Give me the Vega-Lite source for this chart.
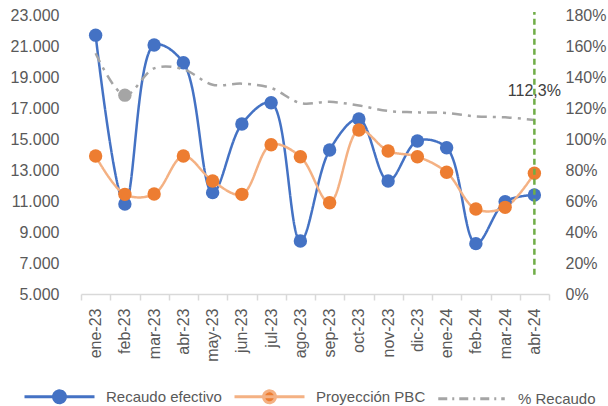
{
  "$schema": "https://vega.github.io/schema/vega-lite/v6.json",
  "width": 468,
  "height": 279,
  "autosize": {"type": "none"},
  "padding": {"left": 81, "top": 15, "right": 59, "bottom": 112},
  "background": "white",
  "config": {
    "font": "Liberation Sans",
    "view": {"stroke": null},
    "locale": {"number": {"decimal": ",", "thousands": ".", "grouping": [3], "currency": ["$", ""]}},
    "axis": {"labelFont": "Liberation Sans", "labelFontSize": 16, "labelColor": "#595959", "title": null, "grid": false}
  },
  "datasets": {
    "montos": [
      {"mes": "ene-23", "serie": "Recaudo efectivo", "valor": 21700},
      {"mes": "feb-23", "serie": "Recaudo efectivo", "valor": 10800},
      {"mes": "mar-23", "serie": "Recaudo efectivo", "valor": 21060},
      {"mes": "abr-23", "serie": "Recaudo efectivo", "valor": 19920},
      {"mes": "may-23", "serie": "Recaudo efectivo", "valor": 11540},
      {"mes": "jun-23", "serie": "Recaudo efectivo", "valor": 15970},
      {"mes": "jul-23", "serie": "Recaudo efectivo", "valor": 17340},
      {"mes": "ago-23", "serie": "Recaudo efectivo", "valor": 8420},
      {"mes": "sep-23", "serie": "Recaudo efectivo", "valor": 14290},
      {"mes": "oct-23", "serie": "Recaudo efectivo", "valor": 16290},
      {"mes": "nov-23", "serie": "Recaudo efectivo", "valor": 12290},
      {"mes": "dic-23", "serie": "Recaudo efectivo", "valor": 14870},
      {"mes": "ene-24", "serie": "Recaudo efectivo", "valor": 14440},
      {"mes": "feb-24", "serie": "Recaudo efectivo", "valor": 8250},
      {"mes": "mar-24", "serie": "Recaudo efectivo", "valor": 10960},
      {"mes": "abr-24", "serie": "Recaudo efectivo", "valor": 11390},
      {"mes": "ene-23", "serie": "Proyección PBC", "valor": 13900},
      {"mes": "feb-23", "serie": "Proyección PBC", "valor": 11430},
      {"mes": "mar-23", "serie": "Proyección PBC", "valor": 11450},
      {"mes": "abr-23", "serie": "Proyección PBC", "valor": 13900},
      {"mes": "may-23", "serie": "Proyección PBC", "valor": 12290},
      {"mes": "jun-23", "serie": "Proyección PBC", "valor": 11430},
      {"mes": "jul-23", "serie": "Proyección PBC", "valor": 14630},
      {"mes": "ago-23", "serie": "Proyección PBC", "valor": 13860},
      {"mes": "sep-23", "serie": "Proyección PBC", "valor": 10890},
      {"mes": "oct-23", "serie": "Proyección PBC", "valor": 15580},
      {"mes": "nov-23", "serie": "Proyección PBC", "valor": 14230},
      {"mes": "dic-23", "serie": "Proyección PBC", "valor": 13860},
      {"mes": "ene-24", "serie": "Proyección PBC", "valor": 12850},
      {"mes": "feb-24", "serie": "Proyección PBC", "valor": 10480},
      {"mes": "mar-24", "serie": "Proyección PBC", "valor": 10590},
      {"mes": "abr-24", "serie": "Proyección PBC", "valor": 12790}
    ],
    "pct": [
      {"mes": "ene-23", "pct": 155.3},
      {"mes": "feb-23", "pct": 128.3},
      {"mes": "mar-23", "pct": 145.6},
      {"mes": "abr-23", "pct": 145.0},
      {"mes": "may-23", "pct": 135.0},
      {"mes": "jun-23", "pct": 135.7},
      {"mes": "jul-23", "pct": 132.9},
      {"mes": "ago-23", "pct": 123.2},
      {"mes": "sep-23", "pct": 124.0},
      {"mes": "oct-23", "pct": 121.6},
      {"mes": "nov-23", "pct": 118.1},
      {"mes": "dic-23", "pct": 117.2},
      {"mes": "ene-24", "pct": 116.8},
      {"mes": "feb-24", "pct": 114.6},
      {"mes": "mar-24", "pct": 114.0},
      {"mes": "abr-24", "pct": 112.3}
    ]
  },
  "encoding": {
    "x": {
      "field": "mes",
      "type": "ordinal",
      "bandPosition": 0.5,
      "scale": {
        "type": "band",
        "paddingInner": 0,
        "paddingOuter": 0,
        "domain": ["ene-23", "feb-23", "mar-23", "abr-23", "may-23", "jun-23", "jul-23", "ago-23", "sep-23", "oct-23", "nov-23", "dic-23", "ene-24", "feb-24", "mar-24", "abr-24"]
      },
      "axis": {
        "labelAngle": -90,
        "labelPadding": 8,
        "domainColor": "#D9D9D9",
        "domainWidth": 1.5,
        "tickColor": "#D9D9D9",
        "tickWidth": 1.5,
        "tickSize": 6,
        "tickBand": "extent"
      }
    }
  },
  "layer": [
    {
      "data": {"name": "montos"},
      "encoding": {
        "y": {
          "field": "valor",
          "type": "quantitative",
          "scale": {"domain": [5000, 23000], "nice": false, "zero": false},
          "axis": {"orient": "left", "domain": false, "ticks": false, "labelPadding": 22, "values": [5000, 7000, 9000, 11000, 13000, 15000, 17000, 19000, 21000, 23000], "format": ",.0f"}
        }
      },
      "layer": [
        {
          "mark": {"type": "line", "interpolate": "catmull-rom", "strokeWidth": 2.5},
          "encoding": {
            "color": {
              "field": "serie",
              "type": "nominal",
              "scale": {"domain": ["Recaudo efectivo", "Proyección PBC", "% Recaudo"], "range": ["#4472C4", "#F4B183", "#A5A5A5"]},
              "legend": {
                "orient": "none",
                "legendX": -58,
                "legendY": 345,
                "direction": "horizontal",
                "title": null,
                "padding": 0,
                "labelFont": "Liberation Sans",
                "labelFontSize": 15,
                "labelColor": "#595959",
                "labelOffset": 10,
                "columnPadding": 6,
                "symbolSize": 4900,
                "symbolStrokeWidth": 3,
                "labelLimit": 300,
                "symbolType": {"expr": "datum.value === '% Recaudo' ? 'M-0.95,0L0.95,0' : 'M-1,0L1,0M-0.17,0A0.17,0.17,0,1,1,0.17,0A0.17,0.17,0,1,1,-0.17,0'"},
                "symbolFillColor": {"expr": "datum.value === 'Recaudo efectivo' ? '#4472C4' : datum.value === 'Proyección PBC' ? '#ED7D31' : 'transparent'"}
              }
            },
            "strokeDash": {
              "field": "serie",
              "type": "nominal",
              "scale": {"domain": ["Recaudo efectivo", "Proyección PBC", "% Recaudo"], "range": [[1, 0], [1, 0], [9, 5, 2, 5]]},
              "legend": {
                "orient": "none",
                "legendX": -58,
                "legendY": 345,
                "direction": "horizontal",
                "title": null,
                "padding": 0,
                "labelFont": "Liberation Sans",
                "labelFontSize": 15,
                "labelColor": "#595959",
                "labelOffset": 10,
                "columnPadding": 6,
                "symbolSize": 4900,
                "symbolStrokeWidth": 3,
                "labelLimit": 300,
                "symbolType": {"expr": "datum.value === '% Recaudo' ? 'M-0.95,0L0.95,0' : 'M-1,0L1,0M-0.17,0A0.17,0.17,0,1,1,0.17,0A0.17,0.17,0,1,1,-0.17,0'"},
                "symbolFillColor": {"expr": "datum.value === 'Recaudo efectivo' ? '#4472C4' : datum.value === 'Proyección PBC' ? '#ED7D31' : 'transparent'"}
              }
            }
          }
        },
        {
          "transform": [{"filter": "datum.serie === 'Recaudo efectivo'"}],
          "mark": {"type": "circle", "size": 180, "opacity": 1, "color": "#4472C4"}
        },
        {
          "transform": [{"filter": "datum.serie === 'Proyección PBC'"}],
          "mark": {"type": "circle", "size": 180, "opacity": 1, "color": "#ED7D31"}
        }
      ]
    },
    {
      "data": {"name": "pct"},
      "encoding": {
        "y": {
          "field": "pct",
          "type": "quantitative",
          "scale": {"domain": [0, 180], "nice": false},
          "axis": {"orient": "right", "domain": false, "ticks": false, "labelPadding": 16, "values": [0, 20, 40, 60, 80, 100, 120, 140, 160, 180], "labelExpr": "datum.value + '%'"}
        }
      },
      "layer": [
        {
          "mark": {"type": "line", "interpolate": "catmull-rom", "color": "#A5A5A5", "strokeWidth": 2.5, "strokeDash": [10, 6, 3, 6]}
        },
        {
          "transform": [{"filter": "datum.mes === 'feb-23'"}],
          "mark": {"type": "circle", "size": 180, "opacity": 1, "color": "#A5A5A5"}
        },
        {
          "transform": [{"filter": "datum.mes === 'abr-24'"}],
          "mark": {"type": "rule", "color": "#70AD47", "strokeWidth": 2.5, "strokeDash": [6, 4]},
          "encoding": {"y": {"datum": 12.5}, "y2": {"datum": 182}}
        },
        {
          "transform": [{"filter": "datum.mes === 'abr-24'"}],
          "mark": {"type": "text", "font": "Liberation Sans", "fontSize": 16, "color": "#404040", "dy": -29, "align": "center", "baseline": "middle", "text": {"expr": "format(datum.pct, '.1f') + '%'"}}
        }
      ]
    }
  ],
  "resolve": {"scale": {"y": "independent"}}
}
